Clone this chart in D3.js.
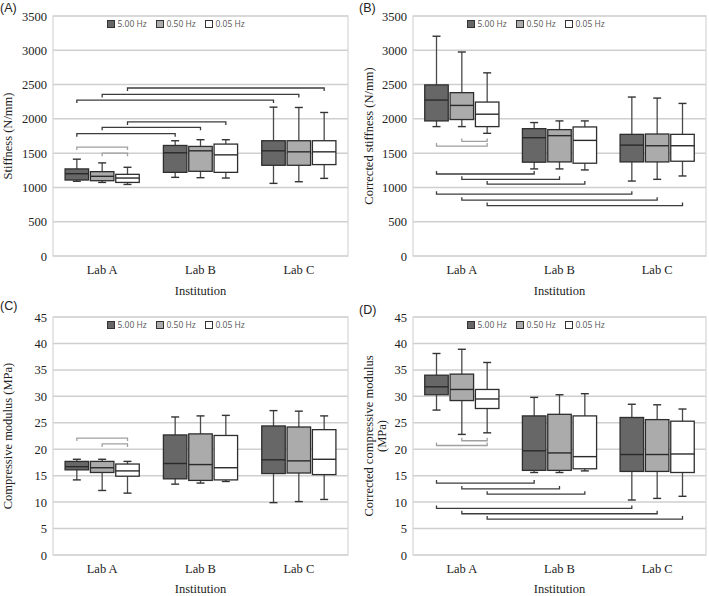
<!DOCTYPE html>
<html>
<head>
<meta charset="utf-8">
<script src="https://cdn.jsdelivr.net/npm/d3@7"></script>
<style>
  body { margin: 0; background: #fff; }
  svg { display: block; }
  .serif { font-family: "Liberation Serif", "DejaVu Serif", "Times New Roman", Times, serif; }
</style>
</head>
<body>
<div id="chart"></div>
<script>
const labs = ["Lab A", "Lab B", "Lab C"];
const freqs = ["5.00 Hz", "0.50 Hz", "0.05 Hz"];
const freqFill = ["#676767", "#ababab", "#ffffff"];

// [lab][freq] = [whisker low, q1, median, q3, whisker high]
const stiffness = [
  [[1090, 1108, 1200, 1270, 1412], [1073, 1098, 1162, 1230, 1358], [1044, 1073, 1137, 1191, 1294]],
  [[1147, 1220, 1505, 1612, 1681], [1142, 1235, 1534, 1598, 1696], [1137, 1220, 1475, 1632, 1696]],
  [[1059, 1323, 1534, 1681, 2171], [1083, 1323, 1519, 1681, 2166], [1132, 1333, 1519, 1681, 2093]]
];
const corrStiffness = [
  [[1887, 1970, 2274, 2495, 3205], [1887, 1990, 2196, 2382, 2975], [1789, 1887, 2068, 2245, 2671]],
  [[1270, 1368, 1725, 1857, 1946], [1270, 1372, 1755, 1843, 1970], [1255, 1353, 1686, 1882, 1970]],
  [[1093, 1372, 1617, 1774, 2318], [1118, 1372, 1608, 1779, 2303], [1167, 1382, 1608, 1774, 2225]]
];
const modulus = [
  [[14.2, 16.1, 16.7, 17.7, 18.1], [12.2, 15.6, 16.5, 17.7, 18.1], [11.7, 14.9, 15.9, 17.2, 17.7]],
  [[13.4, 14.4, 17.3, 22.7, 26.1], [13.6, 14.1, 17.1, 22.9, 26.3], [13.9, 14.2, 16.5, 22.6, 26.4]],
  [[9.9, 15.4, 18.0, 24.4, 27.3], [10.1, 15.5, 17.8, 24.2, 27.2], [10.5, 15.2, 18.1, 23.7, 26.3]]
];
const corrModulus = [
  [[27.4, 30.3, 31.8, 34.0, 38.1], [22.8, 29.2, 31.3, 34.2, 38.9], [23.1, 27.7, 29.5, 31.3, 36.4]],
  [[15.6, 16.0, 19.7, 26.3, 29.8], [15.6, 16.0, 19.3, 26.6, 30.3], [15.9, 16.3, 18.6, 26.3, 30.5]],
  [[10.4, 15.8, 19.0, 26.0, 28.5], [10.7, 15.8, 19.0, 25.6, 28.4], [11.1, 15.6, 19.1, 25.3, 27.6]]
];

// significance brackets: [fromLab, fromFreq, toLab, toFreq, value, tone]
const stiffnessBrackets = [
  [0, 0, 0, 2, 1588, "light"], [0, 1, 0, 2, 1500, "light"],
  [0, 0, 1, 0, 1784, "dark"], [0, 1, 1, 1, 1877, "dark"], [0, 2, 1, 2, 1955, "dark"],
  [0, 0, 2, 0, 2274, "dark"], [0, 1, 2, 1, 2357, "dark"], [0, 2, 2, 2, 2450, "dark"]
];
const corrStiffnessBrackets = [
  [0, 0, 0, 2, 1603, "light"], [0, 1, 0, 2, 1671, "light"],
  [0, 0, 1, 0, 1196, "dark"], [0, 1, 1, 1, 1118, "dark"], [0, 2, 1, 2, 1049, "dark"],
  [0, 0, 2, 0, 902, "dark"], [0, 1, 2, 1, 814, "dark"], [0, 2, 2, 2, 735, "dark"]
];
const modulusBrackets = [
  [0, 0, 0, 2, 22.1, "light"], [0, 1, 0, 2, 21.0, "light"]
];
const corrModulusBrackets = [
  [0, 0, 0, 2, 20.7, "light"], [0, 1, 0, 2, 21.6, "light"],
  [0, 0, 1, 0, 13.6, "dark"], [0, 1, 1, 1, 12.5, "dark"], [0, 2, 1, 2, 11.5, "dark"],
  [0, 0, 2, 0, 8.8, "dark"], [0, 1, 2, 1, 7.8, "dark"], [0, 2, 2, 2, 6.8, "dark"]
];

const panels = [
  { tag: "(A)", tagX: 0, tagY: 12, x0: 53, x1: 348, y0: 16, y1: 256, max: 3500, step: 500,
    data: stiffness, brackets: stiffnessBrackets, tick: 3,
    ylabel: ["Stiffness (N/mm)"], labelX: [12], instY: 295 },
  { tag: "(B)", tagX: 359, tagY: 12, x0: 413, x1: 706, y0: 16, y1: 256, max: 3500, step: 500,
    data: corrStiffness, brackets: corrStiffnessBrackets, tick: -3,
    ylabel: ["Corrected stiffness (N/mm)"], labelX: [373], instY: 295 },
  { tag: "(C)", tagX: 0, tagY: 310, x0: 53, x1: 348, y0: 317, y1: 555, max: 45, step: 5,
    data: modulus, brackets: modulusBrackets, tick: 3,
    ylabel: ["Compressive modulus (MPa)"], labelX: [12], instY: 593 },
  { tag: "(D)", tagX: 359, tagY: 314, x0: 413, x1: 706, y0: 317, y1: 555, max: 45, step: 5,
    data: corrModulus, brackets: corrModulusBrackets, tick: -3,
    ylabel: ["Corrected compressive modulus", "(MPa)"], labelX: [373, 386], instY: 593 }
];

const svg = d3.select("#chart").append("svg")
  .attr("width", 709).attr("height", 596);

panels.forEach(p => {
  const g = svg.append("g");
  const x = d3.scaleBand().domain(labs).range([p.x0, p.x1]);
  const off = d3.scaleBand().domain(freqs).range([-38, 38]);
  const y = d3.scaleLinear().domain([0, p.max]).range([p.y1, p.y0]);
  const boxW = 23.5;
  const cx = (l, f) => x(labs[l]) + x.bandwidth() / 2 + off(freqs[f]) + off.bandwidth() / 2;

  g.append("text").attr("x", p.tagX).attr("y", p.tagY)
    .attr("font-family", "Liberation Sans, Arial, sans-serif").attr("font-size", 12.5)
    .attr("fill", "#222").text(p.tag);

  // grid + frame
  const ticks = d3.range(0, p.max + p.step / 2, p.step);
  g.selectAll(".grid").data(ticks).join("line")
    .attr("x1", p.x0).attr("x2", p.x1)
    .attr("y1", d => y(d)).attr("y2", d => y(d))
    .attr("stroke", "#cfcfcf").attr("stroke-width", 1.5);
  g.append("rect").attr("x", p.x0).attr("y", p.y0)
    .attr("width", p.x1 - p.x0).attr("height", p.y1 - p.y0)
    .attr("fill", "none").attr("stroke", "#d6d6d6").attr("stroke-width", 1.2);

  const ya = g.append("g").attr("transform", `translate(${p.x0},0)`)
    .call(d3.axisLeft(y).tickValues(ticks).tickFormat(d3.format("d")).tickSize(0).tickPadding(6));
  ya.select(".domain").remove();
  ya.attr("font-family", null).attr("font-size", null);
  ya.selectAll("text").attr("class", "serif").attr("font-size", 12.5).attr("fill", "#222");

  const xa = g.append("g").attr("transform", `translate(0,${p.y1})`)
    .call(d3.axisBottom(x).tickSize(0).tickPadding(9));
  xa.select(".domain").remove();
  xa.attr("font-family", null).attr("font-size", null);
  xa.selectAll("text").attr("class", "serif").attr("font-size", 12.5).attr("fill", "#222");

  g.append("text").attr("class", "serif").attr("x", (p.x0 + p.x1) / 2).attr("y", p.instY)
    .attr("text-anchor", "middle").attr("font-size", 12.5).attr("fill", "#222")
    .text("Institution");

  p.ylabel.forEach((t, i) => {
    g.append("text").attr("class", "serif")
      .attr("transform", `translate(${p.labelX[i]},${(p.y0 + p.y1) / 2}) rotate(-90)`)
      .attr("text-anchor", "middle").attr("font-size", 12.5).attr("fill", "#222")
      .text(t);
  });

  // boxes
  const boxes = [];
  p.data.forEach((row, l) => row.forEach((s, f) => boxes.push({ l, f, s })));
  const bg = g.selectAll(".box").data(boxes).join("g");
  bg.append("line")
    .attr("x1", d => cx(d.l, d.f)).attr("x2", d => cx(d.l, d.f))
    .attr("y1", d => y(d.s[0])).attr("y2", d => y(d.s[4]))
    .attr("stroke", "#4a4a4a").attr("stroke-width", 1.3);
  [0, 4].forEach(k => {
    bg.append("line")
      .attr("x1", d => cx(d.l, d.f) - 4).attr("x2", d => cx(d.l, d.f) + 4)
      .attr("y1", d => y(d.s[k])).attr("y2", d => y(d.s[k]))
      .attr("stroke", "#333").attr("stroke-width", 1.4);
  });
  bg.append("rect")
    .attr("x", d => cx(d.l, d.f) - boxW / 2).attr("width", boxW)
    .attr("y", d => y(d.s[3])).attr("height", d => y(d.s[1]) - y(d.s[3]))
    .attr("fill", d => freqFill[d.f]).attr("stroke", "#2e2e2e").attr("stroke-width", 1.3);
  bg.append("line")
    .attr("x1", d => cx(d.l, d.f) - boxW / 2).attr("x2", d => cx(d.l, d.f) + boxW / 2)
    .attr("y1", d => y(d.s[2])).attr("y2", d => y(d.s[2]))
    .attr("stroke", "#2a2a2a").attr("stroke-width", 1.4);

  // brackets
  g.selectAll(".br").data(p.brackets).join("path")
    .attr("d", b => {
      const x1 = cx(b[0], b[1]), x2 = cx(b[2], b[3]), yy = y(b[4]);
      return `M${x1},${yy + p.tick}V${yy}H${x2}V${yy + p.tick}`;
    })
    .attr("fill", "none")
    .attr("stroke", b => b[5] === "dark" ? "#3c3c3c" : "#a0a0a0")
    .attr("stroke-width", 1.3);

  // legend
  const lg = g.append("g").attr("transform", `translate(${p.x0 + 54},${p.y0 + 4})`);
  freqs.forEach((f, i) => {
    const it = lg.append("g").attr("transform", `translate(${i * 49},0)`);
    it.append("rect").attr("x", 0.5).attr("y", 0.5).attr("width", 7).attr("height", 7)
      .attr("fill", freqFill[i]).attr("stroke", "#333").attr("stroke-width", 1);
    it.append("text").attr("x", 10.5).attr("y", 7.3)
      .attr("font-family", "Open Sans, DejaVu Sans, sans-serif")
      .attr("font-size", 8.5).attr("fill", "#555").text(f);
  });
});
</script>
</body>
</html>
